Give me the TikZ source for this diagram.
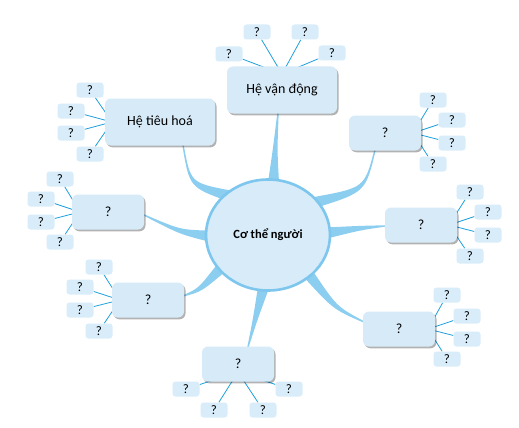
\documentclass[tikz,border=0pt]{standalone}
\usepackage{fontspec}
\setmainfont{Carlito}
\usetikzlibrary{calc,shadows,shapes.geometric}
\definecolor{boxfill}{HTML}{D6EAF8}
\definecolor{leaffill}{HTML}{D8ECF9}
\definecolor{bodyfill}{HTML}{D7EBF9}
\definecolor{bodyline}{HTML}{7DC6EE}
\definecolor{branchc}{HTML}{8CCEF0}
\definecolor{twigc}{HTML}{1EA0DC}
\pgfdeclarelayer{background}
\pgfsetlayers{background,main}
\tikzset{
  mainbox/.style={fill=boxfill, rounded corners=6pt, minimum width=72pt, minimum height=35pt, inner sep=0pt,
    drop shadow={shadow xshift=1.5pt, shadow yshift=-1.8pt, fill=black, opacity=0.3},
    font=\fontsize{14}{16}\selectfont},
  bigbox/.style={mainbox, minimum width=110pt, minimum height=47pt},
  leaf/.style={fill=leaffill, rounded corners=3pt, minimum width=27pt, minimum height=15pt, inner sep=0pt,
    font=\fontsize{13}{15}\selectfont},
  twig/.style={draw=twigc, line width=0.8pt},
  branch/.style={fill=branchc},
  bodynode/.style={ellipse, fill=bodyfill, draw=bodyline, line width=2.6pt, minimum width=124pt, minimum height=111pt,
    inner sep=0pt, font=\fontsize{12.5}{14}\selectfont\bfseries}
}
\newcommand{\mmbranch}[3]{%
  \fill[branch] ($(#1)!0.7pt!90:(#2)$) .. controls ($(#2)!2.2pt!90:(#3)$) .. ($(#3)!5.5pt!-90:(#2)$)
    -- ($(#3)!5.5pt!90:(#2)$) .. controls ($(#2)!2.2pt!-90:(#3)$) .. ($(#1)!0.7pt!-90:(#2)$) -- cycle;}
\newcommand{\mmleaves}[2]{%
  \foreach \x/\y [count=\i] in {#2} {%
    \node[leaf] (#1-\i) at (\x,\y) {?};
    \begin{pgfonlayer}{background}\draw[twig] (#1-\i) -- (f#1);\end{pgfonlayer}
  }}
\begin{document}
\begin{tikzpicture}[x=1pt,y=-1pt]
\useasboundingbox (0,0) rectangle (519,428);
% main nodes
\node[bodynode] (body) at (268,235) {Cơ thể người};
\node[bigbox] (hvd) at (282,90) {Hệ vận động};
\node[bigbox] (hth) at (160,122) {Hệ tiêu hoá};
\node[mainbox] (ru) at (385,133) {?};
\node[mainbox] (rm) at (421,225) {?};
\node[mainbox] (rl) at (399,329) {?};
\node[mainbox] (bt) at (238,364) {?};
\node[mainbox] (ll) at (148,300) {?};
\node[mainbox] (lm) at (108,212) {?};
% focal points of the twigs
\coordinate (fhvd) at (282,74);
\coordinate (fhth) at (112,122);
\coordinate (fru) at (413,133);
\coordinate (frm) at (449,225);
\coordinate (frl) at (428,329);
\coordinate (fbt) at (238,372);
\coordinate (fll) at (120,300);
\coordinate (flm) at (80,212);
% leaves
\mmleaves{hvd}{229/54, 257/32, 305/32, 332/53}
\mmleaves{hth}{90/90, 71/111, 71/133, 90/154}
\mmleaves{ru}{433/100, 452/120, 452/143, 433/164}
\mmleaves{rm}{470/192, 488/212, 488/235, 470/256}
\mmleaves{rl}{447/295, 467/316, 467/339, 447/359}
\mmleaves{bt}{186/389, 214/410, 263/410, 289/389}
\mmleaves{ll}{99/267, 80/287, 80/310, 99/331}
\mmleaves{lm}{60/179, 41/199, 41/222, 60/242}
% branches
\coordinate (thvd) at (278,113);  \coordinate (chvd) at (275,150); \coordinate (bhvd) at ($(body.center)!0.93!(body.84)$);
\coordinate (thth) at (183,145);  \coordinate (chth) at (190,185); \coordinate (bhth) at ($(body.center)!0.93!(body.135)$);
\coordinate (tru) at (375,150);   \coordinate (cru) at (365,190);  \coordinate (bru) at ($(body.center)!0.93!(body.35)$);
\coordinate (trm) at (385,226);   \coordinate (crm) at (360,228);  \coordinate (brm) at ($(body.center)!0.93!(body.2)$);
\coordinate (trl) at (364,322);   \coordinate (crl) at (335,308);  \coordinate (brl) at ($(body.center)!0.93!(body.316)$);
\coordinate (tbt) at (248,347);   \coordinate (cbt) at (255,320);  \coordinate (bbt) at ($(body.center)!0.93!(body.265)$);
\coordinate (tll) at (183,296);   \coordinate (cll) at (200,290);  \coordinate (bll) at ($(body.center)!0.93!(body.215)$);
\coordinate (tlm) at (144,215);   \coordinate (clm) at (180,232);  \coordinate (blm) at ($(body.center)!0.93!(body.181)$);
\begin{pgfonlayer}{background}
\foreach \n in {hvd,hth,ru,rm,rl,bt,ll,lm}{\mmbranch{t\n}{c\n}{b\n}}
\end{pgfonlayer}
\end{tikzpicture}
\end{document}
